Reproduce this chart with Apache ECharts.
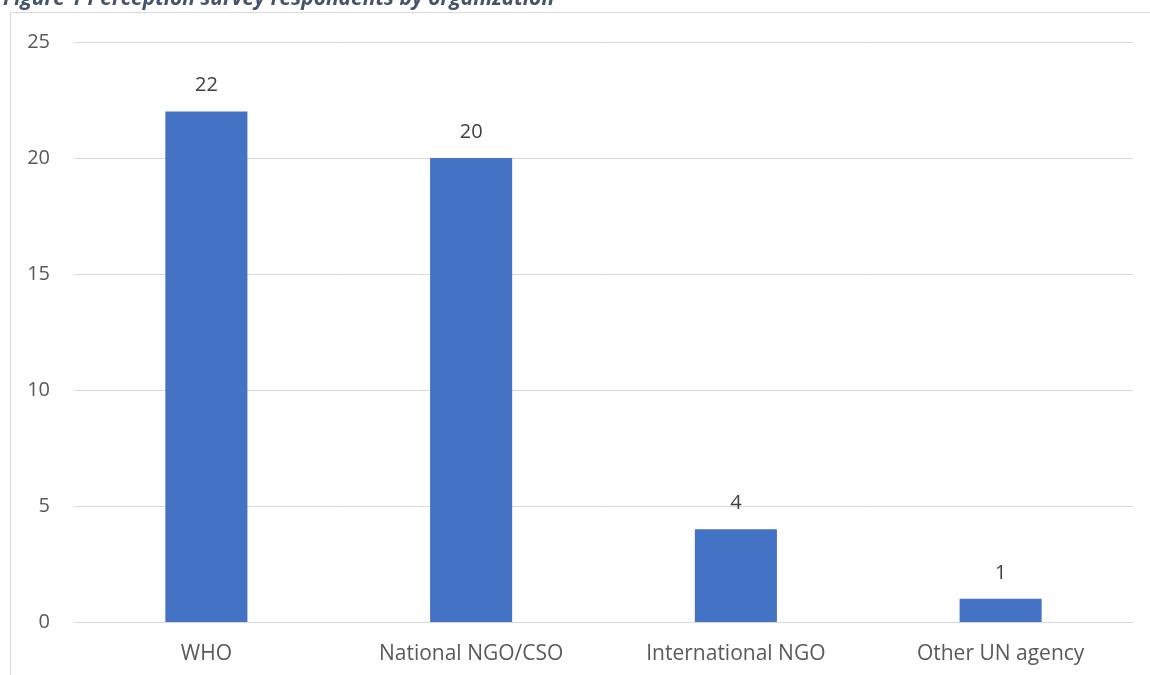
<!DOCTYPE html>
<html><head><meta charset="utf-8">
<script src="https://cdn.jsdelivr.net/npm/echarts@6/dist/echarts.min.js"></script>
<style>html,body{margin:0;padding:0;background:#fff}#c{width:1150px;height:675px}</style>
</head><body><div id="c"></div>
<script>
const categories = ["WHO", "National NGO/CSO", "International NGO", "Other UN agency"];
const respondents = [22, 20, 4, 1];
const yTicks = {min: 0, max: 25, interval: 5};
const titleText = "Figure 1 Perception survey respondents by organization";

const chart = echarts.init(document.getElementById('c'));
const font = '"Open Sans", sans-serif';
chart.setOption({
  animation: false,
  backgroundColor: '#fff',
  title: {
    text: titleText, left: -2, top: -16,
    textStyle: {fontFamily: font, fontSize: 21, fontWeight: 'bold', fontStyle: 'italic', color: '#44546A'}
  },
  graphic: [
    {type: 'line', shape: {x1: 10.5, y1: 12.5, x2: 1150, y2: 12.5}, style: {stroke: '#D9D9D9', lineWidth: 1}, z: 0},
    {type: 'line', shape: {x1: 10.5, y1: 12.5, x2: 10.5, y2: 675}, style: {stroke: '#D9D9D9', lineWidth: 1}, z: 0}
  ],
  grid: {left: 74, right: 17, top: 42, bottom: 53},
  xAxis: {
    type: 'category', data: categories,
    axisLine: {lineStyle: {color: '#D9D9D9', width: 1}},
    axisTick: {show: false},
    axisLabel: {fontFamily: font, fontSize: 21, color: '#595959', margin: 22}
  },
  yAxis: {
    type: 'value', min: yTicks.min, max: yTicks.max, interval: yTicks.interval,
    axisLine: {show: false}, axisTick: {show: false},
    splitLine: {lineStyle: {color: '#D9D9D9', width: 1}},
    axisLabel: {fontFamily: font, fontSize: 20, color: '#595959', margin: 24}
  },
  series: [{
    type: 'bar', data: respondents, barWidth: '31%',
    itemStyle: {color: '#4472C4'},
    label: {show: true, position: 'top', distance: 16, fontFamily: font, fontSize: 20, color: '#404040'}
  }]
});
</script></body></html>
